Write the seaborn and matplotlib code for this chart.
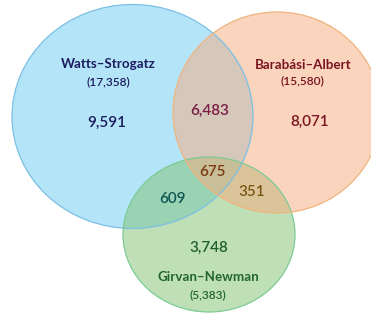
import matplotlib
matplotlib.use("Agg")
import matplotlib.pyplot as plt
from matplotlib.patches import Ellipse
import seaborn as sns

# set names and sizes
set_names = ["Watts\u2013Strogatz", "Barab\u00e1si\u2013Albert", "Girvan\u2013Newman"]
set_totals = [17358, 15580, 5383]

# region counts (only-A, only-B, only-C, A&B, A&C, B&C, A&B&C)
region_names = ["A", "B", "C", "AB", "AC", "BC", "ABC"]
region_counts = [9591, 8071, 3748, 6483, 609, 351, 675]

# styling
fill_colors = ["#6bcbf3", "#f7ab7d", "#81c171"]
edge_colors = ["#7cc0e4", "#f0b47e", "#7ccb94"]
name_colors = ["#1c1c5e", "#7a1420", "#23652f"]
region_colors = {"A": "#1c1c5e", "B": "#7a1420", "C": "#1f5f2c",
                 "AB": "#7a1c44", "AC": "#0f5853", "BC": "#7a5814", "ABC": "#7a3a12"}

# layout in pixel space (centre x, centre y, width, height)
circles = [(132.5, 116.5, 241, 224), (277, 112.5, 208, 201), (209, 234.5, 172, 155)]
draw_order = [0, 2, 1]
name_pos = [(108, 64), (303, 65), (208, 277)]
total_pos = [(108, 82), (302, 81), (208, 295)]
region_pos = {"A": (107, 123), "B": (310, 122), "C": (209, 248),
              "AB": (210, 111), "AC": (172, 199), "BC": (252, 192), "ABC": (213, 172)}

sns.set_theme(style="white")
plt.rcParams["font.family"] = ["Lato", "DejaVu Sans"]

fig = plt.figure(figsize=(3.71, 3.16), dpi=100)
ax = fig.add_axes([0, 0, 1, 1])
ax.set_xlim(0, 371)
ax.set_ylim(316, 0)
ax.axis("off")

for i in draw_order:
    cx, cy, w, h = circles[i]
    ax.add_patch(Ellipse((cx, cy), w, h, facecolor=fill_colors[i], alpha=0.5,
                         edgecolor="none"))
for i in draw_order:
    cx, cy, w, h = circles[i]
    ax.add_patch(Ellipse((cx, cy), w, h, facecolor="none",
                         edgecolor=edge_colors[i], linewidth=0.9))

for i in range(3):
    ax.text(*name_pos[i], set_names[i], ha="center", va="center",
            fontsize=9.6, fontweight="bold", color=name_colors[i])
    ax.text(*total_pos[i], f"({set_totals[i]:,})", ha="center", va="center",
            fontsize=8.6, fontweight="semibold", color=name_colors[i])

for name, count in zip(region_names, region_counts):
    ax.text(*region_pos[name], f"{count:,}", ha="center", va="center",
            fontsize=11, fontweight="semibold", color=region_colors[name])

fig.savefig("out.png", dpi=100)
